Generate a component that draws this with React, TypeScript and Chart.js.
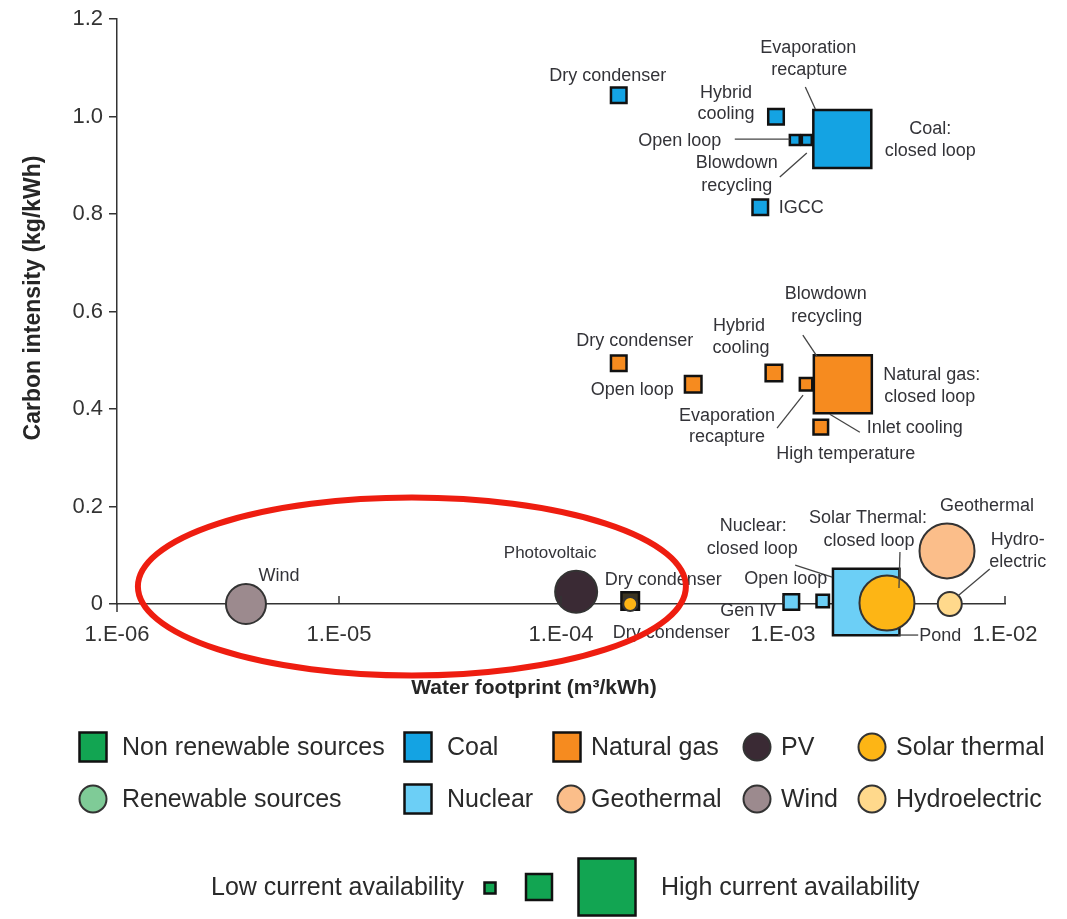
import React, { useEffect, useRef } from 'react';
import { Chart, registerables } from 'chart.js';

Chart.register(...registerables);

// ---------- axis ticks ----------
const xTickValues = [1e-6, 1e-5, 1e-4, 1e-3, 1e-2];
const xTickLabels = ['1.E-06', '1.E-05', '1.E-04', '1.E-03', '1.E-02'];
const yTickValues = [0, 0.2, 0.4, 0.6, 0.8, 1.0, 1.2];
const yTickLabels = ['0', '0.2', '0.4', '0.6', '0.8', '1.0', '1.2'];

// ---------- data (water footprint m3/kWh, carbon intensity kg/kWh, marker radius ~ current availability) ----------
const coalNames = ['Dry condenser', 'Hybrid cooling', 'Closed loop', 'Open loop', 'Blowdown recycling', 'IGCC'];
const coalWater = [1.82e-4, 9.3e-4, 1.85e-3, 1.13e-3, 1.28e-3, 7.9e-4];
const coalCarbon = [1.044, 1.0, 0.954, 0.952, 0.952, 0.814];
const coalAvail = [11, 11, 41, 7, 7, 11];

const gasNames = ['Dry condenser', 'Open loop', 'Hybrid cooling', 'Evaporation recapture', 'Closed loop', 'High temperature'];
const gasWater = [1.82e-4, 3.94e-4, 9.1e-4, 1.27e-3, 1.86e-3, 1.48e-3];
const gasCarbon = [0.494, 0.451, 0.474, 0.451, 0.451, 0.363];
const gasAvail = [11, 11.7, 11.7, 8.8, 41, 10.3];

const nucNames = ['Gen IV', 'Open loop', 'Closed loop'];
const nucWater = [1.09e-3, 1.51e-3, 2.37e-3];
const nucCarbon = [0.004, 0.006, 0.004];
const nucAvail = [11, 8.8, 47];

const solarNames = ['Dry condenser', 'Closed loop'];
const solarWater = [2.05e-4, 2.94e-3];
const solarCarbon = [0.0, 0.002];
const solarAvail = [7, 27.5];

const dryBoxWater = [2.05e-4];
const dryBoxCarbon = [0.006];
const dryBoxAvail = [12.4];

const pvWater = [1.17e-4];
const pvCarbon = [0.025];
const pvAvail = [21];

const windWater = [3.81e-6];
const windCarbon = [0.0];
const windAvail = [20];

const geoWater = [5.48e-3];
const geoCarbon = [0.109];
const geoAvail = [27.5];

const hydroWater = [5.64e-3];
const hydroCarbon = [0.0];
const hydroAvail = [12];

// ---------- legend ----------
const legendRow1 = ['Non renewable sources', 'Coal', 'Natural gas', 'PV', 'Solar thermal'];
const legendRow2 = ['Renewable sources', 'Nuclear', 'Geothermal', 'Wind', 'Hydroelectric'];
const sizeLegendLow = 'Low current availability';
const sizeLegendHigh = 'High current availability';

const C = {
  green: '#12A552',
  lightGreen: '#7FCB97',
  coal: '#14A3E3',
  nuclear: '#6CCFF6',
  gas: '#F68B1F',
  pv: '#3A2A34',
  solar: '#FDB515',
  geo: '#FBBE8A',
  wind: '#9C8A8E',
  hydro: '#FFD98C',
  dryBox: '#3B3420',
};

const FONT = '"Liberation Sans", Arial, Helvetica, sans-serif';
const TEXT = '#333338';

const series: Record<string, { x: number[]; y: number[] }> = {
  coal: { x: coalWater, y: coalCarbon },
  gas: { x: gasWater, y: gasCarbon },
  nuc: { x: nucWater, y: nucCarbon },
  solar: { x: solarWater, y: solarCarbon },
  pv: { x: pvWater, y: pvCarbon },
  wind: { x: windWater, y: windCarbon },
  geo: { x: geoWater, y: geoCarbon },
  hydro: { x: hydroWater, y: hydroCarbon },
};

// annotation text, placed relative to the pixel of a data point
const notes: { s: string; i: number; t: string; dx: number; dy: number; f?: number; a?: CanvasTextAlign }[] = [
  { s: 'coal', i: 0, t: 'Dry condenser', dx: -11, dy: -19 },
  { s: 'coal', i: 1, t: 'Hybrid', dx: -50, dy: -24 },
  { s: 'coal', i: 1, t: 'cooling', dx: -50, dy: -3 },
  { s: 'coal', i: 3, t: 'Open loop', dx: -115, dy: 1 },
  { s: 'coal', i: 4, t: 'Blowdown', dx: -70, dy: 23 },
  { s: 'coal', i: 4, t: 'recycling', dx: -70, dy: 46 },
  { s: 'coal', i: 2, t: 'Evaporation', dx: -34, dy: -91 },
  { s: 'coal', i: 2, t: 'recapture', dx: -33, dy: -69 },
  { s: 'coal', i: 2, t: 'Coal:', dx: 88, dy: -10 },
  { s: 'coal', i: 2, t: 'closed loop', dx: 88, dy: 12 },
  { s: 'coal', i: 5, t: 'IGCC', dx: 41, dy: 1 },

  { s: 'gas', i: 0, t: 'Dry condenser', dx: 16, dy: -22 },
  { s: 'gas', i: 1, t: 'Open loop', dx: -61, dy: 6 },
  { s: 'gas', i: 2, t: 'Hybrid', dx: -35, dy: -47 },
  { s: 'gas', i: 2, t: 'cooling', dx: -33, dy: -25 },
  { s: 'gas', i: 4, t: 'Blowdown', dx: -17, dy: -90 },
  { s: 'gas', i: 4, t: 'recycling', dx: -16, dy: -67 },
  { s: 'gas', i: 4, t: 'Natural gas:', dx: 89, dy: -9 },
  { s: 'gas', i: 4, t: 'closed loop', dx: 87, dy: 13 },
  { s: 'gas', i: 3, t: 'Evaporation', dx: -79, dy: 32 },
  { s: 'gas', i: 3, t: 'recapture', dx: -79, dy: 53 },
  { s: 'gas', i: 4, t: 'Inlet cooling', dx: 72, dy: 44 },
  { s: 'gas', i: 5, t: 'High temperature', dx: 25, dy: 27 },

  { s: 'wind', i: 0, t: 'Wind', dx: 33, dy: -28 },
  { s: 'pv', i: 0, t: 'Photovoltaic', dx: -26, dy: -39, f: 17 },
  { s: 'solar', i: 0, t: 'Dry condenser', dx: 33, dy: -24 },
  { s: 'solar', i: 0, t: 'Dry condenser', dx: 41, dy: 29 },
  { s: 'nuc', i: 0, t: 'Gen IV', dx: -43, dy: 9 },
  { s: 'nuc', i: 1, t: 'Open loop', dx: -37, dy: -22 },
  { s: 'nuc', i: 2, t: 'Nuclear:', dx: -113, dy: -76 },
  { s: 'nuc', i: 2, t: 'closed loop', dx: -114, dy: -53 },
  { s: 'solar', i: 1, t: 'Solar Thermal:', dx: -19, dy: -85 },
  { s: 'solar', i: 1, t: 'closed loop', dx: -18, dy: -62 },
  { s: 'geo', i: 0, t: 'Geothermal', dx: 40, dy: -45 },
  { s: 'hydro', i: 0, t: 'Hydro-', dx: 68, dy: -64 },
  { s: 'hydro', i: 0, t: 'electric', dx: 68, dy: -42 },
  { s: 'nuc', i: 2, t: 'Pond', dx: 74, dy: 34 },
];

const leaders: { s: string; i: number; x1: number; y1: number; x2: number; y2: number }[] = [
  { s: 'coal', i: 3, x1: -60, y1: -1, x2: -5, y2: -1 },
  { s: 'coal', i: 4, x1: -27, y1: 37, x2: 0, y2: 13 },
  { s: 'coal', i: 2, x1: -37, y1: -52, x2: -27, y2: -30 },
  { s: 'gas', i: 4, x1: -40, y1: -49, x2: -26, y2: -28 },
  { s: 'gas', i: 3, x1: -29, y1: 44, x2: -3, y2: 11 },
  { s: 'gas', i: 4, x1: -13, y1: 30, x2: 17, y2: 48 },
  { s: 'nuc', i: 2, x1: -71, y1: -37, x2: -34, y2: -25 },
  { s: 'solar', i: 1, x1: 13, y1: -51, x2: 12, y2: -15 },
  { s: 'hydro', i: 0, x1: 8, y1: -8, x2: 40, y2: -35 },
  { s: 'nuc', i: 2, x1: 32, y1: 33, x2: 52, y2: 33 },
];

// red highlight ellipse, centred on a data position
const ellipseCenter = { x: 2.13e-5, y: 0.036 };

const mk = (xs: number[], ys: number[], rs: number[]) => xs.map((x, i) => ({ x, y: ys[i], r: rs[i] }));

function drawSwatch(ctx: CanvasRenderingContext2D, kind: string, cx: number, cy: number, color: string) {
  ctx.save();
  ctx.fillStyle = color;
  if (kind === 'rect') {
    ctx.fillRect(cx - 13.5, cy - 14.5, 27, 29);
    ctx.lineWidth = 2.5;
    ctx.strokeStyle = '#111';
    ctx.strokeRect(cx - 13.5, cy - 14.5, 27, 29);
  } else {
    ctx.beginPath();
    ctx.arc(cx, cy, 13.5, 0, Math.PI * 2);
    ctx.fill();
    ctx.lineWidth = 2;
    ctx.strokeStyle = '#333';
    ctx.stroke();
  }
  ctx.restore();
}

const overlayPlugin = {
  id: 'overlay',
  afterDatasetsDraw(chart: any) {
    const ctx: CanvasRenderingContext2D = chart.ctx;
    const xs = chart.scales.x;
    const ys = chart.scales.y;
    const pix = (s: string, i: number) => [xs.getPixelForValue(series[s].x[i]), ys.getPixelForValue(series[s].y[i])];
    ctx.save();
    // upward x tick marks
    ctx.strokeStyle = '#333';
    ctx.lineWidth = 1.5;
    const yb = chart.chartArea.bottom;
    xTickValues.forEach((v, k) => {
      if (k === 0) return;
      const px = xs.getPixelForValue(v);
      ctx.beginPath();
      ctx.moveTo(px, yb);
      ctx.lineTo(px, yb - 8);
      ctx.stroke();
    });
    // y axis extension below zero
    ctx.beginPath();
    ctx.moveTo(chart.chartArea.left, yb);
    ctx.lineTo(chart.chartArea.left, yb + 8);
    ctx.stroke();
    // leaders
    ctx.strokeStyle = '#444';
    ctx.lineWidth = 1.3;
    leaders.forEach((l) => {
      const [px, py] = pix(l.s, l.i);
      ctx.beginPath();
      ctx.moveTo(px + l.x1, py + l.y1);
      ctx.lineTo(px + l.x2, py + l.y2);
      ctx.stroke();
    });
    // annotation text
    ctx.fillStyle = TEXT;
    ctx.textBaseline = 'middle';
    notes.forEach((n) => {
      const [px, py] = pix(n.s, n.i);
      ctx.font = `${n.f || 18}px ${FONT}`;
      ctx.textAlign = n.a || 'center';
      ctx.fillText(n.t, px + n.dx, py + n.dy);
    });
    ctx.restore();
  },
  afterDraw(chart: any) {
    const ctx: CanvasRenderingContext2D = chart.ctx;
    const xs = chart.scales.x;
    const ys = chart.scales.y;
    ctx.save();
    // red ellipse
    ctx.strokeStyle = '#EE1D10';
    ctx.lineWidth = 6;
    ctx.beginPath();
    ctx.ellipse(xs.getPixelForValue(ellipseCenter.x), ys.getPixelForValue(ellipseCenter.y), 274, 89, 0, 0, Math.PI * 2);
    ctx.stroke();

    // axis titles
    ctx.fillStyle = '#262626';
    ctx.textAlign = 'center';
    ctx.textBaseline = 'middle';
    ctx.font = `bold 21px ${FONT}`;
    ctx.fillText('Water footprint (m³/kWh)', 534, 688);
    ctx.save();
    ctx.translate(34, 298);
    ctx.rotate(-Math.PI / 2);
    ctx.font = `bold 23px ${FONT}`;
    ctx.fillText('Carbon intensity (kg/kWh)', 0, 0);
    ctx.restore();

    // legend
    const kinds1 = ['rect', 'rect', 'rect', 'circle', 'circle'];
    const cols1 = [C.green, C.coal, C.gas, C.pv, C.solar];
    const kinds2 = ['circle', 'rect', 'circle', 'circle', 'circle'];
    const cols2 = [C.lightGreen, C.nuclear, C.geo, C.wind, C.hydro];
    const sw1 = [93, 418, 567, 757, 872];
    const sw2 = [93, 418, 571, 757, 872];
    const tx = [122, 447, 591, 781, 896];
    ctx.font = `25px ${FONT}`;
    ctx.textAlign = 'left';
    legendRow1.forEach((t, k) => {
      drawSwatch(ctx, kinds1[k], sw1[k], 747, cols1[k]);
      ctx.fillStyle = '#2a2a2a';
      ctx.fillText(t, tx[k], 748);
    });
    legendRow2.forEach((t, k) => {
      drawSwatch(ctx, kinds2[k], sw2[k], 799, cols2[k]);
      ctx.fillStyle = '#2a2a2a';
      ctx.fillText(t, tx[k], 800);
    });
    // size legend
    ctx.fillStyle = '#2a2a2a';
    ctx.fillText(sizeLegendLow, 211, 888);
    ctx.fillText(sizeLegendHigh, 661, 888);
    const boxes = [
      [490, 888, 11],
      [539, 887, 26],
      [607, 887, 57],
    ];
    boxes.forEach(([cx, cy, s]) => {
      ctx.fillStyle = C.green;
      ctx.fillRect(cx - s / 2, cy - s / 2, s, s);
      ctx.lineWidth = 2.5;
      ctx.strokeStyle = '#111';
      ctx.strokeRect(cx - s / 2, cy - s / 2, s, s);
    });
    ctx.restore();
  },
};

export default function App() {
  const ref = useRef<HTMLCanvasElement>(null);
  useEffect(() => {
    const canvas = ref.current;
    if (!canvas) return;
    Chart.defaults.font.family = FONT;
    const sq = { pointStyle: 'rect', borderColor: '#111', borderWidth: 2.5, clip: false as any };
    const ci = { pointStyle: 'circle', borderColor: '#333', borderWidth: 2, clip: false as any };
    const chart = new Chart(canvas, {
      type: 'bubble',
      data: {
        datasets: [
          { label: 'Solar thermal', data: mk(solarWater, solarCarbon, solarAvail), backgroundColor: C.solar, order: 0, ...ci },
          { label: 'Hydroelectric', data: mk(hydroWater, hydroCarbon, hydroAvail), backgroundColor: C.hydro, order: 0, ...ci },
          { label: 'Geothermal', data: mk(geoWater, geoCarbon, geoAvail), backgroundColor: C.geo, order: 1, ...ci },
          { label: 'PV', data: mk(pvWater, pvCarbon, pvAvail), backgroundColor: C.pv, order: 1, ...ci },
          { label: 'Wind', data: mk(windWater, windCarbon, windAvail), backgroundColor: C.wind, order: 1, ...ci },
          { label: 'Coal', data: mk(coalWater, coalCarbon, coalAvail), backgroundColor: C.coal, order: 2, ...sq },
          { label: 'Natural gas', data: mk(gasWater, gasCarbon, gasAvail), backgroundColor: C.gas, order: 2, ...sq },
          { label: 'Dry condenser box', data: mk(dryBoxWater, dryBoxCarbon, dryBoxAvail), backgroundColor: C.dryBox, order: 3, ...sq },
          { label: 'Nuclear', data: mk(nucWater, nucCarbon, nucAvail), backgroundColor: C.nuclear, order: 4, ...sq },
        ] as any,
      },
      options: {
        responsive: false,
        animation: false,
        events: [],
        devicePixelRatio: 1,
        layout: { autoPadding: false, padding: { left: 0, right: 62, top: 19, bottom: 0 } },
        plugins: { legend: { display: false }, tooltip: { enabled: false } },
        scales: {
          x: {
            type: 'logarithmic',
            min: 1e-6,
            max: 1e-2,
            afterBuildTicks: (s: any) => {
              s.ticks = xTickValues.map((v) => ({ value: v }));
            },
            afterFit: (s: any) => {
              s.height = 315;
            },
            grid: { display: false },
            border: { display: true, color: '#333', width: 1.5 },
            ticks: {
              autoSkip: false,
              maxRotation: 0,
              padding: 10,
              color: '#333',
              font: { size: 22, family: FONT },
              callback: (_v: any, i: number) => xTickLabels[i],
            },
          },
          y: {
            type: 'linear',
            min: 0,
            max: 1.2,
            afterBuildTicks: (s: any) => {
              s.ticks = yTickValues.map((v) => ({ value: v }));
            },
            afterFit: (s: any) => {
              s.width = 117;
            },
            grid: { display: true, drawOnChartArea: false, tickLength: 8, color: '#333', lineWidth: 1.5 },
            border: { display: true, color: '#333', width: 1.5 },
            ticks: {
              padding: 6,
              color: '#333',
              font: { size: 22, family: FONT },
              callback: (_v: any, i: number) => yTickLabels[i],
            },
          },
        } as any,
      },
      plugins: [overlayPlugin as any],
    });
    return () => chart.destroy();
  }, []);
  return (
    <div style={{ position: 'absolute', left: 0, top: 0, width: 1067, height: 919, background: '#fff' }}>
      <canvas ref={ref} width={1067} height={919} style={{ display: 'block', width: 1067, height: 919 }} />
    </div>
  );
}
